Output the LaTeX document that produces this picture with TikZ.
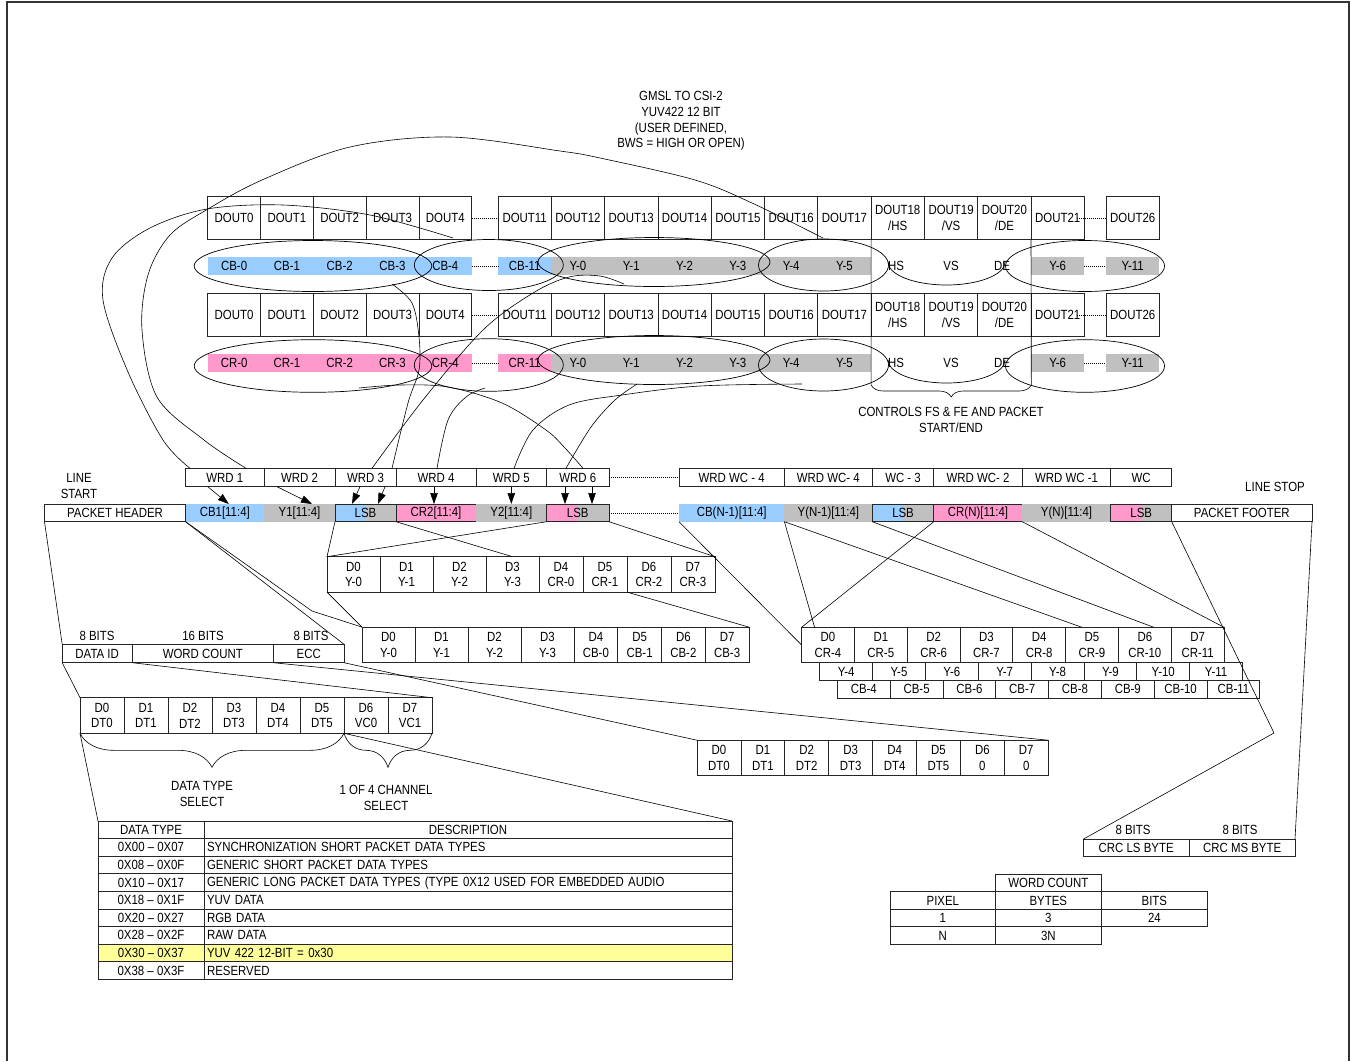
\documentclass[tikz,border=0pt]{standalone}
\usepackage{fontspec}
\setmainfont{Liberation Sans}[FakeStretch=0.86]
\usetikzlibrary{arrows.meta,decorations.pathreplacing,positioning}
\definecolor{cbblue}{HTML}{99CCFF}
\definecolor{crpink}{HTML}{FF99CC}
\definecolor{ygray}{HTML}{C0C0C0}
\definecolor{hilite}{HTML}{FFFF99}
\definecolor{edge}{HTML}{262626}
\tikzset{
  cell/.style={draw=edge, line width=0.7pt, minimum height=#1, align=center},
  cell/.default=17.6,
  band/.style={fill=#1, minimum height=17.4},
  wire/.style={line width=0.6pt, draw=black},
  dots/.style={line width=0.6pt, dash pattern=on 1pt off 1pt},
  ptr/.style={wire, -{Triangle[length=11pt, width=7.5pt]}},
  oval/.style={line width=0.7pt, draw=black},
}
\begin{document}
\begin{tikzpicture}[x=1pt, y=-1pt,
  every node/.style={font=\fontsize{13.3}{15.8}\selectfont, inner sep=0pt, outer sep=0pt}]
\useasboundingbox (0,0) rectangle (1351,1061);
\draw[line width=2pt, draw=black!80] (6.5,1061) -- (6.5,2) -- (1348.5,2) -- (1348.5,1061);

% title
\node[align=center] (title) at (681,121) {GMSL TO CSI-2\\YUV422 12 BIT\\(USER DEFINED,\\BWS = HIGH OR OPEN)};

% colour bands under the DOUT rows
\foreach \r/\yy/\c/\p in {a/266/cbblue/CB, b/362.9/crpink/CR} {
  \foreach \i in {0,...,4}
    \node[band=\c, minimum width=52.8] (\r-b\i) at ({207.7+52.8*(\i+0.5)},\yy) {\p-\i};
  \node[band=\c, minimum width=53.3] (\r-b11) at (524.65,\yy) {\p-11};
  \foreach \i in {0,...,5}
    \node[band=ygray, minimum width=53.3] (\r-y\i) at ({551.3+53.3*(\i+0.5)},\yy) {Y-\i};
  \node (\r-hs) at (896,\yy) {HS};
  \node (\r-vs) at (951,\yy) {VS};
  \node (\r-de) at (1002,\yy) {DE};
  \node[band=ygray, minimum width=53.3] (\r-y6) at (1057.65,\yy) {Y-6};
  \node[band=ygray, minimum width=53.3] (\r-y11) at (1132.65,\yy) {Y-11};
  \draw[dots] (\r-b4.east) -- (\r-b11.west);
  \draw[dots] (\r-y6.east) -- (\r-y11.west);
}

% DOUT rows
\foreach \r/\yy in {a/217.8, b/314.9} {
  \foreach \t [count=\i from 0] in {DOUT0,DOUT1,DOUT2,DOUT3,DOUT4}
    \node[cell=43.6, minimum width=52.8] (\r-d\i) at ({207.7+52.8*(\i+0.5)},\yy) {\t};
  \foreach \t [count=\i from 0] in {DOUT11,DOUT12,DOUT13,DOUT14,DOUT15,DOUT16,DOUT17,{DOUT18\\/HS},{DOUT19\\/VS},{DOUT20\\/DE},DOUT21}
    \node[cell=43.6, minimum width=53.3] (\r-e\i) at ({498+53.3*(\i+0.5)},\yy) {\t};
  \node[cell=43.6, minimum width=53.3] (\r-z) at (1132.65,\yy) {DOUT26};
  \draw[dots] (\r-d4.east) -- (\r-e0.west);
  \draw[dots] ([xshift=-7pt]\r-e10.east) -- (\r-z.west);
}

% ovals round the bit groups
\foreach \yc/\yt/\ry in {266/262/25.5, 366/360/26.3} {
  \draw[oval] (313,\yc) ellipse[x radius=118.8, y radius=\ry];
  \draw[oval] (488.8,{\yc-1}) ellipse[x radius=74.5, y radius=\ry];
  \draw[oval] (654,\yt) ellipse[x radius=116, y radius=24.5];
  \draw[oval] (823.5,{\yc-1}) ellipse[x radius=65, y radius=26];
  \draw[oval] (1085,\yc) ellipse[x radius=79.5, y radius=\ry];
  \draw[oval] (888,\yt) arc[start angle=180, end angle=0, x radius=58.5, y radius=23];
}

% sync brace
\coordinate (brL) at (871.1,385);
\coordinate (brR) at (1031.3,385);
\draw[wire] (a-e7.south west) -- (brL);
\draw[wire] (a-e10.south west) -- (brR);
\draw[wire, decorate, decoration={brace, amplitude=12pt}] (brR) -- (brL);
\node[align=center] (ctrl) at (951,420) {CONTROLS FS \& FE AND PACKET\\START/END};

% word row
\foreach \nm/\xl/\xr/\t in {w1/185.6/264/WRD 1, w2/264/335/WRD 2, w3/335/396/WRD 3, w4/396/476/WRD 4, w5/476/546.6/WRD 5, w6/546.6/609/WRD 6, wc1/679/784.4/WRD WC - 4, wc2/784.4/872.3/WRD WC- 4, wc3/872.3/933.8/WC - 3, wc4/933.8/1022.3/WRD WC- 2, wc5/1022.3/1110.7/WRD WC -1, wc6/1110.7/1171.7/WC}
  \node[cell=18.4, minimum width={\xr-\xl}] (\nm) at ({(\xl+\xr)/2},477.5) {\t};
\draw[dots] (w6.east) -- (wc1.west);

% packet row
\foreach \nm/\xl/\xr/\c/\d/\t in {ph/44.5/185.6/white/edge/PACKET HEADER, cb1/185.6/264/cbblue/none/CB1[11:4], y1/264/335/ygray/none/Y1[11:4], cr2/396/476/crpink/edge/CR2[11:4], y2/476/546.6/ygray/none/Y2[11:4], cbn/679/784.4/cbblue/none/CB(N-1)[11:4], yn1/784.4/872.3/ygray/none/Y(N-1)[11:4], crn/933.8/1022.3/crpink/edge/CR(N)[11:4], yn/1022.3/1110.7/ygray/none/Y(N)[11:4], pf/1171.7/1312/white/edge/PACKET FOOTER}
  \node[fill=\c, draw=\d, line width=0.7pt, minimum height=17.7, minimum width={\xr-\xl}] (\nm) at ({(\xl+\xr)/2},512.85) {\t};
\foreach \nm/\xl/\xr/\c in {lsb1/335/396/cbblue, lsb2/546.6/609/crpink, lsb3/872.3/933.8/cbblue, lsb4/1110.7/1171.7/crpink} {
  \fill[fill=\c] (\xl,504) rectangle ({(\xl+\xr)/2},521.7);
  \fill[fill=ygray] ({(\xl+\xr)/2},504) rectangle (\xr,521.7);
  \node[draw=edge, line width=0.7pt, minimum height=17.7, minimum width={\xr-\xl}] (\nm) at ({(\xl+\xr)/2},512.85) {LSB};
}
\draw[dots] (lsb2.east) -- (cbn.west);
\node[align=center] (lstart) at (79,486) {LINE\\START};
\node (lstop) at (1275,487) {LINE STOP};

% word to byte arrows
\draw[ptr] ([xshift=-17pt]w1.south) -- ([xshift=4pt]cb1.north);
\draw[ptr] ([xshift=-22.5pt]w2.south) -- ([xshift=12.5pt]y1.north);
\draw[ptr] ([xshift=-5.5pt]w3.south) -- ([xshift=-13.5pt]lsb1.north);
\draw[ptr] ([xshift=19.5pt]w3.south) -- ([xshift=12.5pt]lsb1.north);
\draw[ptr] ([xshift=-2pt]w4.south) -- ([xshift=-2pt]cr2.north);
\draw[ptr] (w5.south) -- (y2.north);
\draw[ptr] ([xshift=-12.8pt]w6.south) -- ([xshift=-12.8pt]lsb2.north);
\draw[ptr] ([xshift=14.2pt]w6.south) -- ([xshift=14.2pt]lsb2.north);

% curves from the bit groups to the words
\coordinate (pO) at ([xshift=-34.8pt]w1.north);
\coordinate (pI) at ([xshift=21.2pt]w1.north);
\coordinate (p3a) at ([xshift=6.5pt]w3.north);
\coordinate (p3b) at ([xshift=26.5pt]w3.north);
\coordinate (p4) at ([xshift=1pt]w4.north);
\coordinate (p5) at ([xshift=2.7pt]w5.north);
\coordinate (p6a) at ([xshift=-11.8pt]w6.north);
\coordinate (p6b) at ([xshift=5.2pt]w6.north);
\coordinate (qO) at (453,238);
\coordinate (qI) at (823,238);
\coordinate (q3a) at (624,284);
\coordinate (q3b) at (392,284);
\coordinate (q4) at (485,388);
\coordinate (q5) at (802,384);
\coordinate (q6a) at (637,384);
\coordinate (q6b) at (359,388);
\draw[wire] plot[smooth, tension=0.55] coordinates {(pO) (163,440) (128,372) (103,300) (112,258) (150,228) (207,209) (283,205) (370,215) (qO)};
\draw[wire] plot[smooth, tension=0.55] coordinates {(pI) (204,440) (157,397) (142,330) (148,275) (170,235) (208,209) (262,180) (350,147) (450,137) (560,151) (600,158) (695,180) (752,203) (qI)};
\draw[wire] plot[smooth, tension=0.55] coordinates {(p3a) (423,400) (483,330) (533,293) (569,277) (600,276) (q3a)};
\draw[wire] plot[smooth, tension=0.55] coordinates {(p3b) (408,403) (419,370) (419,337) (412,303) (q3b)};
\draw[wire] plot[smooth, tension=0.55] coordinates {(p4) (448,420) (466,397) (q4)};
\draw[wire] plot[smooth, tension=0.55] coordinates {(p5) (533,430) (569,405) (622,395) (700,386) (q5)};
\draw[wire] plot[smooth, tension=0.55] coordinates {(p6a) (591,427) (615,400) (q6a)};
\draw[wire] plot[smooth, tension=0.55] coordinates {(p6b) (565,448) (546,430) (502,403) (448,387) (400,385) (q6b)};

% LSB byte boxes
\foreach \t [count=\i from 0] in {Y-0,Y-1,Y-2,Y-3,CR-0,CR-1,CR-2,CR-3} {
  \pgfmathsetmacro\w{\i<4 ? 53 : 44}
  \pgfmathsetmacro\xc{\i<4 ? 327+53*\i+26.5 : 539+44*(\i-4)+22}
  \node[cell=35.4, minimum width=\w] (bx1-\i) at (\xc,574.4) {D\i\\\t};
}
\foreach \t [count=\i from 0] in {Y-0,Y-1,Y-2,Y-3,CB-0,CB-1,CB-2,CB-3} {
  \pgfmathsetmacro\w{\i<4 ? 53 : 43.75}
  \pgfmathsetmacro\xc{\i<4 ? 362+53*\i+26.5 : 574+43.75*(\i-4)+21.875}
  \node[cell=35.6, minimum width=\w] (bx2-\i) at (\xc,644.9) {D\i\\\t};
}
\foreach \n [count=\i from 0] in {4,...,11} {
  \node[cell=35.4, minimum width=52.8] (rd\i) at ({801.6+52.8*(\i+0.5)},645) {D\i\\CR-\n};
  \node[cell=17.6, minimum width=52.85] (ry\i) at ({819.7+52.85*(\i+0.5)},671.5) {Y-\n};
  \node[cell=17.6, minimum width=52.8] (rc\i) at ({837.4+52.8*(\i+0.5)},689.1) {CB-\n};
}

% packet header fields
\node[cell=18.4, minimum width=70] (did) at (97.2,653.5) {DATA ID};
\node[cell=18.4, minimum width=141] (wcnt) at (202.8,653.5) {WORD COUNT};
\node[cell=18.4, minimum width=70.7] (ecc) at (308.7,653.5) {ECC};
\node (bits1) at (97,636) {8 BITS};
\node (bits2) at (203,636) {16 BITS};
\node (bits3) at (311,636) {8 BITS};
\foreach \t [count=\i from 0] in {DT0,DT1,DT2,DT3,DT4,DT5,VC0,VC1}
  \node[cell=35.6, minimum width=44] (dt-\i) at ({80+44*(\i+0.5)},715.5) {D\i\\\t};
\foreach \t [count=\i from 0] in {DT0,DT1,DT2,DT3,DT4,DT5,0,0}
  \node[cell=35.6, minimum width=43.9] (du-\i) at ({697+43.9*(\i+0.5)},758) {D\i\\\t};
\draw[wire, decorate, decoration={brace, amplitude=34pt}] (dt-5.south east) -- (dt-0.south west);
\draw[wire, decorate, decoration={brace, amplitude=34pt}] (dt-7.south east) -- (dt-6.south west);
\node[align=center] (dtsel) at (202,794) {DATA TYPE\\SELECT};
\node[align=center] (vcsel) at (386,798) {1 OF 4 CHANNEL\\SELECT};

% data type table
\fill[hilite] (98,944.2) rectangle (732,961.8);
\node[cell=17.6, minimum width=106] (tl-0) at (151,829.8) {DATA TYPE};
\node[cell=17.6, minimum width=528] (tr-0) at (468,829.8) {DESCRIPTION};
\foreach \a/\b [count=\k] in {0X00 -- 0X07/SYNCHRONIZATION SHORT PACKET DATA TYPES, 0X08 -- 0X0F/GENERIC SHORT PACKET DATA TYPES, 0X10 -- 0X17/GENERIC LONG PACKET DATA TYPES (TYPE 0X12 USED FOR EMBEDDED AUDIO, 0X18 -- 0X1F/YUV DATA, 0X20 -- 0X27/RGB DATA, 0X28 -- 0X2F/RAW DATA, 0X30 -- 0X37/YUV 422 12-BIT = 0x30, 0X38 -- 0X3F/RESERVED} {
  \node[cell=17.6, minimum width=106] (tl-\k) at (151,{829.8+17.6*\k}) {\a};
  \node[cell=17.6, minimum width=528, text width=522, align=left] (tr-\k) at (468,{829.8+17.6*\k}) {\b};
}

% footer fields and word count table
\node[cell=17.4, minimum width=106.3] (crcl) at (1136.15,848) {CRC LS BYTE};
\node[cell=17.4, minimum width=105.7] (crcm) at (1242.15,848) {CRC MS BYTE};
\node (bits4) at (1133,830) {8 BITS};
\node (bits5) at (1240,830) {8 BITS};
\node[cell=17.4, minimum width=105.3] (wch) at (1048.35,883) {WORD COUNT};
\node[cell=17.6, minimum width=105.7] (px0) at (942.85,900.5) {PIXEL};
\node[cell=17.6, minimum width=105.3] (by0) at (1048.35,900.5) {BYTES};
\node[cell=17.6, minimum width=106.7] (bt0) at (1154.35,900.5) {BITS};
\node[cell=17.4, minimum width=105.7] (px1) at (942.85,918) {1};
\node[cell=17.4, minimum width=105.3] (by1) at (1048.35,918) {3};
\node[cell=17.4, minimum width=106.7] (bt1) at (1154.35,918) {24};
\node[cell=17.6, minimum width=105.7] (px2) at (942.85,935.5) {N};
\node[cell=17.6, minimum width=105.3] (by2) at (1048.35,935.5) {3N};

% fan-out lines
\draw[wire] (ph.south west) -- (did.north west);
\draw[wire] (ph.south east) -- (ecc.north east);
\coordinate (kink) at (312,611);
\draw[wire] (ph.south east) -- (kink) -- (bx2-0.north west);
\draw[wire] (lsb1.south west) -- (bx1-0.north west) -- (lsb2.south west);
\draw[wire] (cr2.south west) -- (bx1-3.north);
\draw[wire] (lsb2.south east) -- (bx1-7.north east);
\draw[wire] (bx1-0.south west) -- (bx2-0.north west);
\draw[wire] (bx1-6.south west) -- (bx2-7.north east);
\draw[wire] (cbn.south west) -- (rd0.west);
\draw[wire] (yn1.south west) -- ([xshift=13pt]rd0.north west);
\draw[wire] (yn1.south west) -- ([xshift=-10pt]rd5.north);
\draw[wire] (lsb3.south west) -- ([xshift=9pt]rd6.north);
\draw[wire] (lsb3.south east) -- (rd0.north west);
\draw[wire] (yn.south west) -- (rd7.north east);
\coordinate (bend) at (1274,733);
\draw[wire] (lsb4.south east) -- (bend) -- (crcl.north west);
\draw[wire] (pf.south east) -- (crcm.north east);
\draw[wire] (did.south west) -- (dt-0.north west);
\draw[wire] (wcnt.south west) -- (dt-7.north east);
\draw[wire] (ecc.south west) -- (du-7.north east);
\draw[wire] (ecc.south east) -- (du-0.north west);
\draw[wire] (dt-0.south west) -- (tl-0.north west);
\draw[wire] (dt-6.south west) -- (tr-0.north east);
\end{tikzpicture}
\end{document}
